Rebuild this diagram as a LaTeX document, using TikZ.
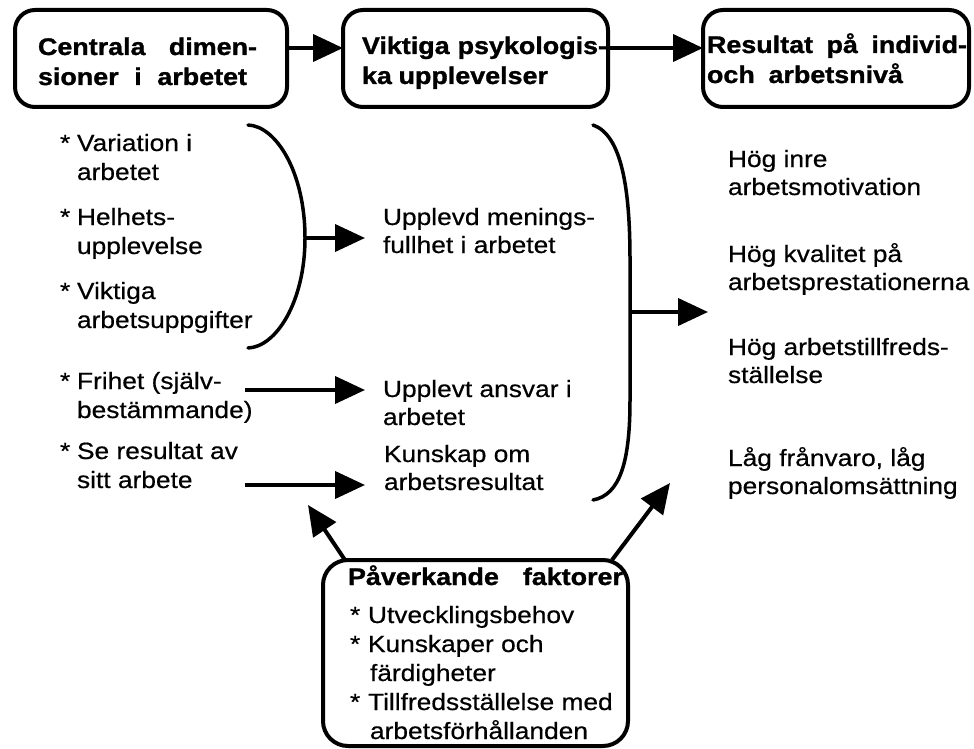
\documentclass[tikz,border=0pt]{standalone}
\usepackage{fontspec}
\setmainfont[FakeStretch=1.12, FakeBold=0.5, BoldFeatures={FakeBold=1.2}]{Liberation Sans}
\usetikzlibrary{arrows.meta,calc}

\begin{document}
\begin{tikzpicture}[x=1pt,y=-1pt,
  every node/.style={inner sep=0pt, outer sep=0pt},
  % multi-line nodes: the base anchor sits on the last line
  txt/.style={anchor=base west, align=left, font=\fontsize{23.5}{28}\selectfont},
  lst/.style={txt, font=\fontsize{23.5}{29}\selectfont},
  head/.style={anchor=base west, align=left, font=\fontsize{24}{30}\selectfont\bfseries},
  tbox/.style={draw, line width=4pt, rounded corners=20pt},
  arr/.style={line width=4pt, -{Triangle[length=30pt,width=27pt]}},
  brace/.style={line width=3.5pt, line cap=round}
]
\useasboundingbox (0,0) rectangle (974,749);

% top row: the three headline boxes
\node[tbox, minimum width=272pt, minimum height=97pt] (b1) at (151,58.5) {};
\node[tbox, minimum width=265pt, minimum height=97pt] (b2) at (475.5,58.5) {};
\node[tbox, minimum width=266pt, minimum height=97pt] (b3) at (836,58.5) {};

\node[head] (t1) at (38,85) {\makebox[219pt][s]{Centrala dimen-}\\\makebox[209pt][s]{sioner i arbetet}};
\node[head] (t2) at (362,84) {\makebox[245pt][s]{Viktiga psykologis-}\\\makebox[186pt][s]{ka upplevelser}};
\node[head] (t3) at (707,83) {\makebox[260pt][s]{Resultat på individ-}\\\makebox[196pt][s]{och arbetsnivå}};

\draw[arr] ([yshift=10.5pt]b1.east) -- ([yshift=10.5pt]b2.west);
\draw[arr] ([yshift=10.5pt]b2.east) -- ([yshift=10.5pt]b3.west);

% left column: job dimensions
\node[lst] (c1) at (60,180) {\makebox[17pt][l]{*}Variation i\\\hspace*{17pt}arbetet};
\node[lst] (c2) at (60,254) {\makebox[17pt][l]{*}Helhets-\\\hspace*{17pt}upplevelse};
\node[lst] (c3) at (60,328) {\makebox[17pt][l]{*}Viktiga\\\hspace*{17pt}arbetsuppgifter};
\node[lst] (c4) at (60,418) {\makebox[17pt][l]{*}Frihet (själv-\\\hspace*{17pt}bestämmande)};
\node[lst] (c5) at (60,488) {\makebox[17pt][l]{*}Se resultat av\\\hspace*{17pt}sitt arbete};

% middle column: psychological states
\node[txt] (m1) at (383,253) {Upplevd menings-\\fullhet i arbetet};
\node[txt] (m2) at (383,425) {Upplevt ansvar i\\arbetet};
\node[txt] (m3) at (384,490) {Kunskap om\\arbetsresultat};

% right column: outcomes
\node[txt] (r1) at (728,195) {Hög inre\\arbetsmotivation};
\node[txt] (r2) at (728,290) {Hög kvalitet på\\arbetsprestationerna};
\node[txt] (r3) at (728,383) {Hög arbetstillfreds-\\ställelse};
\node[txt] (r4) at (728,494) {Låg frånvaro, låg\\personalomsättning};

% left brace gathering the first three dimensions
\coordinate (lbt) at (248,125);
\coordinate (lbm) at (305,238);
\coordinate (lbb) at (248,348);
\draw[brace] (lbt) .. controls (276,126) and (305,172) .. (lbm)
             .. controls (305,302) and (276,347) .. (lbb);
\draw[arr] (lbm) -- ($(m1.west |- lbm)+(-18,0)$);

% single dimension arrows
\coordinate (fa) at (245,390);
\coordinate (sa) at (245,485);
\draw[arr] (fa) -- ($(m2.west |- fa)+(-18,0)$);
\draw[arr] (sa) -- ($(m3.west |- sa)+(-19,0)$);

% right brace gathering the psychological states
\coordinate (rbt) at (593,125);
\coordinate (rbm) at (630,312);
\coordinate (rbb) at (593,500);
\draw[brace] (rbt) .. controls (622,135) and (630,190) .. (630,260) -- (rbm)
             -- (630,400) .. controls (630,462) and (620,495) .. (rbb);
\draw[arr] (rbm) -- ($(r2.west |- rbm)+(-20,0)$);

% moderating factors
\node[tbox, rounded corners=25pt, minimum width=305pt, minimum height=186pt] (pf) at (475.5,653) {};
\node[head] (pft) at (348,585) {\makebox[275pt][s]{Påverkande faktorer}};
\node[lst] (pfl) at (350,739) {\makebox[18pt][l]{*}Utvecklingsbehov\\
  \makebox[18pt][l]{*}Kunskaper och\\\hspace*{20pt}färdigheter\\
  \makebox[18pt][l]{*}Tillfredsställelse med\\\hspace*{20pt}arbetsförhållanden};

\coordinate (kt) at (308,505);
\coordinate (rt) at (670,483);
\draw[arr] ([xshift=22pt]pf.north west) -- (kt);
\draw[arr] ([xshift=-16pt]pf.north east) -- (rt);
\end{tikzpicture}
\end{document}
